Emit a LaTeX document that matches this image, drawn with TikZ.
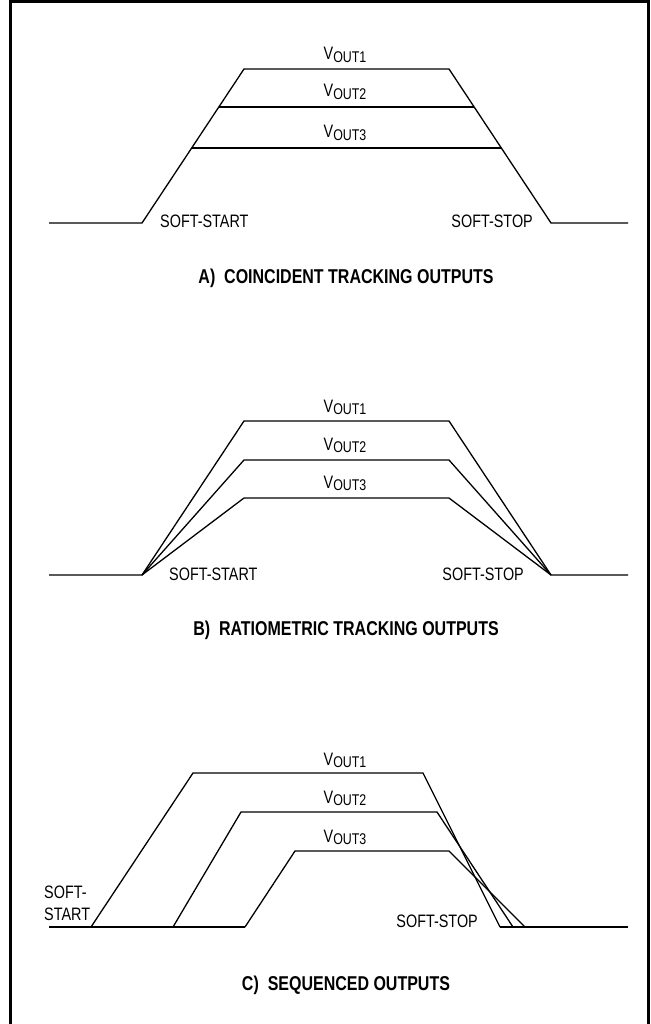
\documentclass[tikz,border=0pt]{standalone}
\usepackage{fontspec}
\setmainfont{Liberation Sans}[FakeStretch=0.8]
\usepackage{tikz}
\usetikzlibrary{positioning,calc}

\newcommand{\voutlbl}[1]{V\raisebox{-2.7pt}{\fontsize{15.5}{16}\selectfont OUT#1}}

\begin{document}
\begin{tikzpicture}[
  x=1pt, y=-1pt,
  wave/.style={line width=1.3pt, line join=miter},
  frm/.style={line width=2.6pt},
  lbl/.style={font=\fontsize{18}{20}\selectfont, inner sep=0pt},
  ttl/.style={font=\fontsize{20}{22}\selectfont\bfseries, inner sep=0pt},
]
\useasboundingbox (0,0) rectangle (650,1024);
\draw[frm] (10.5,1.5) rectangle (648.5,1030);

% A) coincident tracking
\draw[wave] (49,223) -- (142,223) -- (244,69) -- (449,69) -- (551,223) -- (628,223);
\draw[wave] (218.8,107) -- (474.2,107);
\draw[wave] (191.7,148) -- (501.3,148);
\node[lbl, anchor=base] (a1) at (345,60)  {\voutlbl{1}};
\node[lbl, anchor=base] (a2) at (345,97)  {\voutlbl{2}};
\node[lbl, anchor=base] (a3) at (345,138) {\voutlbl{3}};
\node[lbl, anchor=base west] (astart) at (160,227) {SOFT-START};
\node[lbl, anchor=base east] (astop)  at (533,227) {SOFT-STOP};
\node[ttl, anchor=base] (atitle) at (346,283) {A)\ \ COINCIDENT TRACKING OUTPUTS};

% B) ratiometric tracking
\draw[wave] (49,575) -- (142,575) -- (244,421) -- (449,421) -- (551,575) -- (628,575);
\draw[wave] (142,575) -- (244,460) -- (449,460) -- (551,575);
\draw[wave] (142,575) -- (244,498) -- (449,498) -- (551,575);
\node[lbl, anchor=base] (b1) at (345,412) {\voutlbl{1}};
\node[lbl, anchor=base] (b2) at (345,450) {\voutlbl{2}};
\node[lbl, anchor=base] (b3) at (345,488) {\voutlbl{3}};
\node[lbl, anchor=base west] (bstart) at (169,580) {SOFT-START};
\node[lbl, anchor=base east] (bstop)  at (524,580) {SOFT-STOP};
\node[ttl, anchor=base] (btitle) at (346,635) {B)\ \ RATIOMETRIC TRACKING OUTPUTS};

% C) sequenced
\draw[wave] (49,927) -- (245,927);
\draw[wave] (500,927) -- (628,927);
\draw[wave] (91,927) -- (193,773) -- (423,773) -- (500,927);
\draw[wave] (173,927) -- (241,812) -- (437,812) -- (513,927);
\draw[wave] (245,927) -- (295,851) -- (449,851) -- (525,927);
\node[lbl, anchor=base] (c1) at (345,765) {\voutlbl{1}};
\node[lbl, anchor=base] (c2) at (345,803) {\voutlbl{2}};
\node[lbl, anchor=base] (c3) at (345,842) {\voutlbl{3}};
\node[lbl, anchor=base west] (cstart1) at (44,898) {SOFT-};
\node[lbl, anchor=base west] (cstart2) at (44,920) {START};
\node[lbl, anchor=base east] (cstop)  at (478,927) {SOFT-STOP};
\node[ttl, anchor=base] (ctitle) at (346,990) {C)\ \ SEQUENCED OUTPUTS};
\end{tikzpicture}
\end{document}
